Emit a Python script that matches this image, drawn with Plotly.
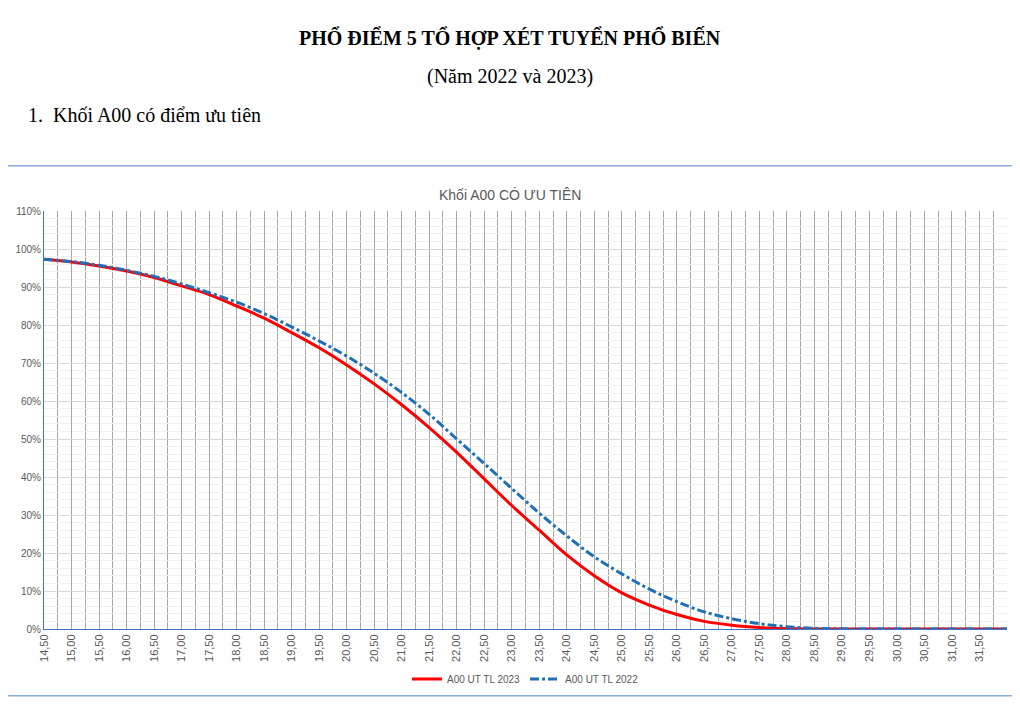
import plotly.graph_objects as go

diem = [14.5 + 0.5 * i for i in range(36)]
tl_2023 = [97.3, 96.6, 95.5, 94.2, 92.5, 90.3, 88.0, 85.0, 81.8, 78.0, 74.0, 69.5,
           64.5, 59.0, 53.0, 46.5, 39.5, 32.5, 26.0, 19.5, 14.0, 9.5, 6.3, 3.8,
           2.0, 1.0, 0.4, 0.1, 0.0, 0.0, 0.0, 0.0, 0.0, 0.0, 0.0, 0.0]
tl_2022 = [97.3, 96.7, 95.7, 94.4, 92.8, 90.8, 88.5, 86.0, 83.0, 79.5, 75.8, 71.8,
           67.3, 62.2, 56.5, 50.0, 43.5, 37.0, 30.5, 24.5, 19.0, 14.5, 10.5, 7.2,
           4.5, 2.7, 1.4, 0.6, 0.2, 0.05, 0.0, 0.0, 0.0, 0.0, 0.0, 0.0]

fig = go.Figure()
fig.add_trace(go.Scatter(x=diem, y=[v / 100 for v in tl_2023], mode="lines",
                         name="A00 UT TL 2023", line=dict(color="#ff0000", width=3, shape="spline")))
fig.add_trace(go.Scatter(x=diem, y=[v / 100 for v in tl_2022], mode="lines",
                         name="A00 UT TL 2022", line=dict(color="#1f6fb5", width=3, dash="dashdot", shape="spline")))

# page body has an 8px margin, so work in page px and subtract it
OFF = 8
W, H = 1020 - 2 * OFF, 706 - 2 * OFF
L, R, T, B = 44 - OFF, W - (1007 - OFF), 211 - OFF, H - (637 - OFF)
PW, PH = W - L - R, H - T - B

def xp(px):
    return (px - OFF - L) / PW

def yp(py):
    return (H - B - (py - OFF)) / PH

serif = "Liberation Serif"
fig.update_layout(
    width=W, height=H,
    margin=dict(l=L, r=R, t=T, b=B),
    paper_bgcolor="white", plot_bgcolor="white",
    separators=", ",
    showlegend=True,
    legend=dict(orientation="h", x=0.5, xanchor="center", y=yp(688), yanchor="middle",
                font=dict(size=10, color="#595959", family="Liberation Sans")),
    xaxis=dict(range=[14.5, 32], tickmode="linear", tick0=14.5, dtick=0.5, tickformat=".2f",
               tickangle=-90, tickfont=dict(size=11, color="#595959", family="Liberation Sans"),
               showgrid=True, gridcolor="#a6a6a6", gridwidth=1,
               minor=dict(dtick=0.25, tick0=14.5, showgrid=True, gridcolor="#a6a6a6"),
               showline=True, linecolor="#4472c4", zeroline=False, ticks=""),
    yaxis=dict(range=[0, 1.1], dtick=0.1, tickformat=".0%",
               tickfont=dict(size=10, color="#595959", family="Liberation Sans"),
               showgrid=True, gridcolor="#d9d9d9",
               minor=dict(dtick=0.02, showgrid=True, gridcolor="#f0f0f0"),
               showline=True, linecolor="#4472c4", zeroline=False, ticks=""),
    shapes=[dict(type="rect", xref="paper", yref="paper", x0=xp(1), x1=xp(1019),
                 y0=yp(705), y1=yp(165), line=dict(color="#8eaadb", width=1.5))],
)
fig.add_annotation(text="<b>PHỔ ĐIỂM 5 TỔ HỢP XÉT TUYỂN PHỔ BIẾN</b>", xref="paper", yref="paper",
                   x=xp(510), y=yp(20), showarrow=False, font=dict(family=serif, size=20, color="black"))
fig.add_annotation(text="(Năm 2022 và 2023)", xref="paper", yref="paper",
                   x=xp(510), y=yp(60), showarrow=False, font=dict(family=serif, size=20, color="black"))
fig.add_annotation(text="1.  Khối A00 có điểm ưu tiên", xref="paper", yref="paper", xanchor="left",
                   x=xp(26), y=yp(100), showarrow=False, font=dict(family=serif, size=20, color="black"))
fig.add_annotation(text="Khối A00 CÓ ƯU TIÊN", xref="paper", yref="paper",
                   x=xp(510), y=yp(185), showarrow=False,
                   font=dict(family="Liberation Sans", size=14, color="#595959"))

fig.write_html("out.html")
